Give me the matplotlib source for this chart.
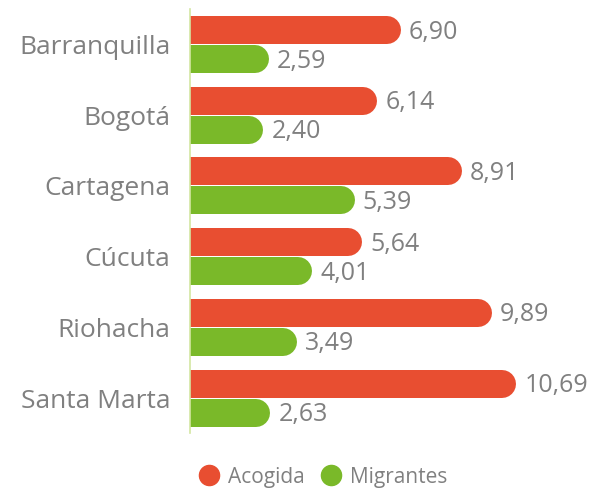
"""Grouped horizontal bars with rounded ends: Acogida vs Migrantes by city."""
import matplotlib
matplotlib.use("Agg")
import matplotlib.pyplot as plt
from matplotlib.lines import Line2D
import numpy as np

cities = ["Barranquilla", "Bogotá", "Cartagena", "Cúcuta", "Riohacha", "Santa Marta"]
acogida = [6.90, 6.14, 8.91, 5.64, 9.89, 10.69]
migrantes = [2.59, 2.40, 5.39, 4.01, 3.49, 2.63]
series_names = ["Acogida", "Migrantes"]

RED = "#e84e31"
GREEN = "#7ab929"
GRAY = "#808080"
AXIS_GREEN = "#d3e6a2"

plt.rcParams["font.family"] = ["Open Sans", "DejaVu Sans"]

W, H, DPI = 593, 490, 100
fig = plt.figure(figsize=(W / DPI, H / DPI), dpi=DPI)
ax_left, ax_bottom, ax_top = 190, 56.6, 9.2
ax = fig.add_axes([ax_left / W, ax_bottom / H, (W - ax_left) / W, (H - ax_bottom - ax_top) / H])

XMAX = 13.2
ax.set_xlim(0, XMAX)
n = len(cities)
ax.set_ylim(n - 0.5, -0.5)

bar_px = 28
lw_pt = bar_px * 72 / DPI
ax_w_px = W - ax_left
cap_data = (bar_px / 2) * XMAX / ax_w_px
label_gap = 8 * XMAX / ax_w_px

offset = 0.205
y = np.arange(n)
for vals, color, dy in [(acogida, RED, -offset), (migrantes, GREEN, offset)]:
    for yi, v in zip(y, vals):
        ax.plot([0, v - cap_data], [yi + dy, yi + dy], color=color, lw=lw_pt,
                solid_capstyle="round", clip_on=True)
        ax.text(v + label_gap, yi + dy + 0.03, f"{v:.2f}".replace(".", ","),
                color=GRAY, fontsize=18, va="center", ha="left", clip_on=False)

ax.set_yticks(y)
ax.set_yticklabels(cities, color=GRAY, fontsize=19)
ax.tick_params(axis="y", length=0, pad=14)
ax.set_xticks([])
for side in ["top", "right", "bottom"]:
    ax.spines[side].set_visible(False)
ax.spines["left"].set_color(AXIS_GREEN)
ax.spines["left"].set_linewidth(1.2)
ax.set_facecolor("none")

handles = [Line2D([], [], ls="none", marker="o", markersize=14.5, color=c)
           for c in (RED, GREEN)]
leg = fig.legend(handles, series_names, loc="center", bbox_to_anchor=(322 / W, 1 - 477 / H),
                 ncol=2, frameon=False, fontsize=15, handlelength=1.2,
                 handletextpad=0.3, columnspacing=0.7)
for t in leg.get_texts():
    t.set_color(GRAY)

fig.savefig("out.png", dpi=DPI)
